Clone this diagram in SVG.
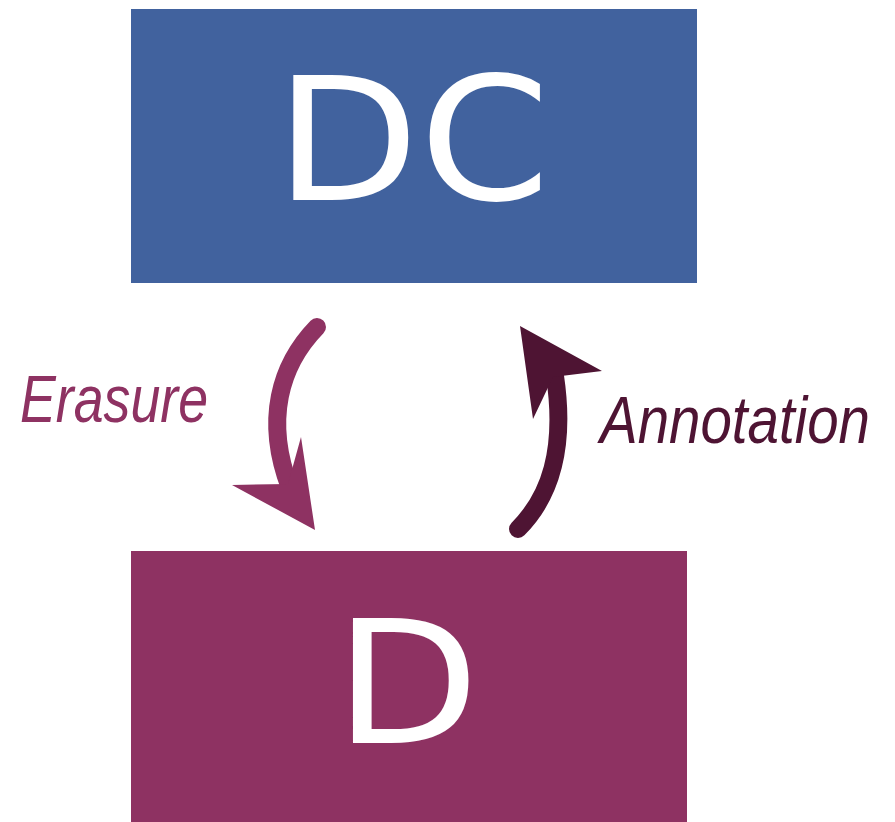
<svg xmlns="http://www.w3.org/2000/svg" width="895" height="822" viewBox="0 0 895 822">
<style>
.node-text{font-family:"DejaVu Sans",sans-serif;font-size:172px;fill:#ffffff}
.label{font-family:"Liberation Sans",Arial,sans-serif;font-style:italic;font-size:66px}
.shaft{fill:none;stroke-width:18;stroke-linecap:round}
</style>
<rect width="895" height="822" fill="#ffffff"/>
<g id="node-DC">
<rect x="131" y="9" width="566" height="274" fill="#41629e"/>
<text class="node-text" x="275" y="200" textLength="275" lengthAdjust="spacingAndGlyphs">DC</text>
</g>
<g id="node-D">
<rect x="131" y="551" width="556" height="271" fill="#8e3262"/>
<text class="node-text" x="334.5" y="743" textLength="145" lengthAdjust="spacingAndGlyphs">D</text>
</g>
<g id="connectors">
<g id="erasure">
<path class="shaft" stroke="#8e3262" d="M317,327 C280,365 264,420 290,488"/>
<polygon fill="#8e3262" points="232,485 315,530 301,437 288,484"/>
<text class="label" fill="#8e3262" x="20" y="422" textLength="188" lengthAdjust="spacingAndGlyphs">Erasure</text>
</g>
<g id="annotation">
<path class="shaft" stroke="#4e1433" d="M518,529 C550,497 566,450 555,376"/>
<polygon fill="#4e1433" points="520,326 602,371 553,377 533,419"/>
<text class="label" fill="#4e1433" x="600" y="443" textLength="270" lengthAdjust="spacingAndGlyphs">Annotation</text>
</g>
</g>
</svg>
